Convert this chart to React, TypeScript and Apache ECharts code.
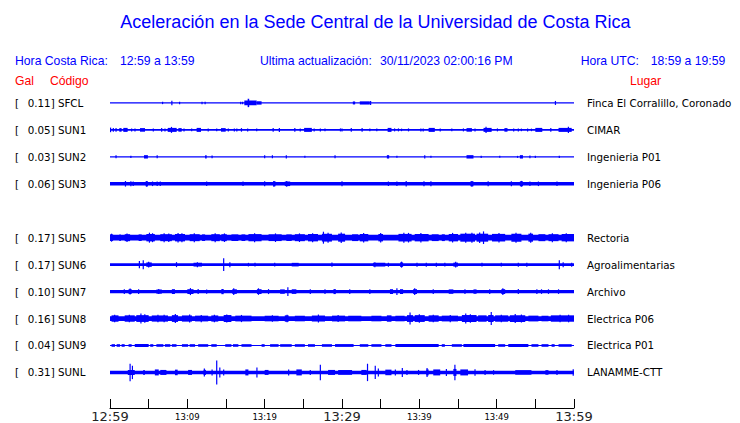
import React, { useEffect, useRef } from "react";
import * as echarts from "echarts";

// ---------- Data ----------
const TITLE = "Aceleración en la Sede Central de la Universidad de Costa Rica";
const LOCAL_RANGE = "12:59 a 13:59";
const UTC_RANGE = "18:59 a 19:59";
const UPDATED = "30/11/2023 02:00:16 PM";

const CODES = ["SFCL", "SUN1", "SUN2", "SUN3", "", "SUN5", "SUN6", "SUN7", "SUN8", "SUN9", "SUNL"];
const GAL = [0.11, 0.05, 0.03, 0.06, null, 0.17, 0.17, 0.1, 0.16, 0.04, 0.31];
const PLACES = [
  "Finca El Corralillo, Coronado",
  "CIMAR",
  "Ingenieria P01",
  "Ingenieria P06",
  "",
  "Rectoria",
  "Agroalimentarias",
  "Archivo",
  "Electrica P06",
  "Electrica P01",
  "LANAMME-CTT",
];

// x tick labels every 5 minutes from 12:59
const TICK_LABELS = ["12:59", "", "13:09", "", "13:19", "", "13:29", "", "13:39", "", "13:49", "", "13:59"];
const MAJOR_TICKS = ["12:59", "13:29", "13:59"];

// continuous background half-amplitude of each trace (27 units = one row)
const BASE = [0.6, 0.85, 0.6, 1.7, 0, 2.9, 1.4, 1.6, 2.4, 0.6, 1.7];

// events: [start minute, end minute, half-amplitude]
const SFCL_EV = [
  [6.8, 6.8, 1.2], [8.0, 8.0, 2.2], [9.0, 9.0, 1.3], [11.9, 11.9, 1.2], [12.3, 12.3, 1.2],
  [16.9, 16.9, 1.2], [17.15, 17.15, 1.3], [17.37, 18.97, 2.4], [17.8, 18.0, 4.2], [19.0, 19.6, 1.7],
  [31.4, 31.7, 1.5], [32.3, 33.6, 1.6], [33.7, 33.7, 2.0], [57.6, 57.6, 2.0],
];
const SUN1_EV = [
  [0.0, 0.15, 2.3], [0.43, 0.43, 1.8], [0.78, 0.78, 1.8], [1.2, 1.5, 1.8], [1.72, 2.28, 2.0], [2.8, 2.8, 1.5],
  [3.23, 3.23, 1.5], [3.88, 4.53, 1.8], [5.6, 5.6, 1.5], [6.68, 6.68, 1.8], [7.11, 7.11, 1.5], [7.46, 8.62, 2.0],
  [7.9, 8.0, 3.0], [8.84, 9.27, 1.8], [9.57, 9.57, 1.5], [10.56, 10.56, 1.3], [11.2, 11.77, 2.0], [12.7, 12.7, 1.5],
  [13.8, 13.8, 1.3], [14.35, 14.96, 1.8], [15.3, 15.3, 1.5], [16.08, 16.08, 1.5], [16.4, 16.4, 1.5], [17.0, 17.0, 1.8],
  [17.8, 17.8, 1.5], [18.97, 18.97, 1.3], [21.1, 21.1, 1.8], [21.9, 21.9, 2.0], [23.9, 23.9, 1.8], [24.6, 24.6, 1.5],
  [25.1, 26.1, 2.0], [26.4, 26.4, 1.5], [27.2, 27.2, 1.5], [27.8, 27.8, 1.3], [29.8, 29.8, 1.5], [30.0, 30.0, 1.5],
  [31.2, 31.2, 1.8], [32.6, 32.6, 1.8], [33.6, 33.6, 1.3], [34.5, 34.5, 1.3], [35.9, 36.4, 2.0], [36.8, 36.8, 1.5],
  [37.3, 37.3, 1.5], [37.7, 37.7, 1.3], [38.6, 38.6, 1.5], [40.2, 40.2, 1.5], [40.5, 40.5, 1.5], [41.2, 42.0, 2.0],
  [42.7, 42.7, 1.5], [44.2, 44.2, 1.3], [45.7, 45.7, 1.5], [46.1, 46.8, 1.8], [47.2, 47.2, 1.5], [48.3, 49.35, 2.0],
  [48.55, 48.7, 3.2], [50.1, 50.1, 1.5], [51.0, 51.4, 1.8], [52.2, 52.2, 1.5], [52.8, 52.8, 1.5], [53.2, 53.2, 1.3],
  [54.0, 54.0, 1.5], [54.5, 54.5, 1.3], [55.0, 55.9, 2.0], [57.0, 57.0, 1.8], [58.0, 59.7, 2.0], [59.2, 59.35, 3.2],
];
const SUN2_EV = [
  [0.78, 0.78, 1.5], [2.7, 2.7, 1.2], [4.4, 4.9, 1.7], [6.1, 6.1, 1.5], [12.3, 12.5, 1.7], [13.2, 13.2, 1.3],
  [20.0, 20.0, 1.5], [21.0, 21.0, 1.5], [22.8, 22.8, 1.7], [25.2, 25.2, 1.0], [29.1, 29.1, 1.5], [35.8, 36.1, 1.7],
  [37.1, 37.1, 1.0], [40.7, 40.7, 1.7], [41.5, 41.5, 1.0], [46.1, 47.0, 1.7], [48.0, 48.0, 1.2], [50.4, 50.4, 1.0],
  [52.7, 52.7, 1.0], [53.0, 53.4, 1.7], [54.3, 54.3, 1.3], [55.0, 55.0, 1.2], [58.1, 58.1, 1.2],
];
const SUN3_EV = [
  [2.0, 2.0, 2.8], [2.7, 2.7, 2.5], [3.0, 3.0, 2.3], [4.6, 4.9, 2.5], [4.75, 4.75, 2.9], [5.5, 5.5, 2.3], [6.1, 6.1, 2.3],
  [6.5, 6.5, 2.3], [12.5, 12.5, 2.3], [17.2, 17.2, 2.3], [20.0, 20.0, 2.5], [21.1, 21.4, 2.5], [21.2, 21.2, 2.9],
  [22.6, 23.3, 2.3], [22.8, 22.9, 2.9], [30.0, 30.0, 2.5], [36.0, 36.0, 2.3], [37.1, 37.1, 2.3], [38.3, 38.3, 2.8],
  [40.6, 40.6, 2.5], [41.5, 41.5, 2.5], [46.6, 47.0, 2.5], [46.8, 46.8, 2.9], [48.9, 48.9, 2.5], [51.9, 51.9, 2.5],
  [53.0, 53.4, 2.5], [53.2, 53.2, 2.9], [54.3, 54.3, 2.3], [55.4, 55.4, 2.3], [57.8, 57.8, 2.3],
];
const SUN5_EV = [
  [0.0, 0.4, 3.3], [0.2, 0.2, 4.0], [1.2, 1.4, 3.3], [1.9, 2.6, 3.5], [2.2, 2.2, 4.3], [3.7, 4.1, 3.3],
  [4.7, 5.8, 3.7], [5.1, 5.1, 5.0], [5.5, 5.5, 4.5], [6.5, 8.0, 3.5], [7.0, 7.0, 4.5], [7.6, 7.6, 4.3],
  [8.4, 9.7, 3.7], [8.8, 8.8, 4.8], [9.3, 9.3, 4.5], [10.3, 11.6, 3.5], [10.9, 10.9, 4.5], [11.9, 12.3, 3.3],
  [13.1, 14.2, 3.5], [13.6, 13.6, 4.5], [14.4, 15.1, 3.5], [14.8, 14.8, 4.3], [15.7, 16.6, 3.3], [17.0, 17.5, 3.3],
  [17.9, 19.6, 3.6], [18.7, 18.7, 4.5], [20.5, 22.2, 3.4], [21.4, 21.4, 4.3], [22.8, 23.5, 3.3], [23.9, 25.2, 3.5],
  [24.5, 24.5, 4.3], [25.6, 26.9, 3.7], [26.2, 26.2, 4.5], [27.4, 28.7, 3.9], [27.6, 27.6, 6.0], [28.2, 28.2, 5.0],
  [29.5, 30.4, 4.0], [29.9, 29.9, 5.3], [31.3, 32.1, 3.4], [32.3, 33.4, 3.7], [32.8, 32.8, 4.8], [34.7, 35.3, 3.7],
  [35.0, 35.0, 4.8], [37.3, 39.0, 3.8], [38.0, 38.0, 5.0], [38.6, 38.6, 4.8], [39.4, 41.2, 3.7], [40.2, 40.2, 4.8],
  [41.6, 42.5, 3.4], [42.9, 43.3, 3.4], [43.8, 45.0, 3.7], [44.3, 44.3, 4.8], [45.3, 47.2, 4.0], [46.0, 46.0, 5.0],
  [46.8, 46.8, 5.0], [47.4, 48.9, 4.0], [48.3, 48.3, 6.3], [47.8, 47.8, 5.3], [49.4, 51.1, 3.8], [50.3, 50.3, 4.8],
  [51.9, 53.2, 4.0], [52.5, 52.5, 5.0], [54.1, 54.7, 4.0], [54.4, 54.4, 5.0], [55.4, 56.3, 3.5], [56.7, 58.0, 3.5],
  [57.2, 57.2, 4.5], [58.4, 60.0, 3.7], [59.0, 59.0, 4.5],
];
const SUN6_EV = [
  [3.8, 3.8, 3.7], [4.3, 4.3, 4.5], [4.7, 5.4, 2.2], [5.0, 5.0, 2.8], [8.6, 8.6, 2.5], [10.8, 11.9, 1.9],
  [11.3, 11.3, 2.5], [14.7, 14.7, 6.3], [15.5, 15.5, 2.5], [17.9, 17.9, 1.8], [18.75, 18.75, 1.8], [21.3, 21.3, 1.8],
  [23.5, 24.4, 1.8], [28.7, 28.7, 2.2], [34.0, 35.6, 1.9], [34.2, 34.3, 2.5], [36.0, 36.0, 2.0], [37.5, 37.9, 2.2],
  [37.7, 37.7, 3.0], [39.7, 39.7, 2.0], [40.9, 40.9, 2.0], [42.2, 42.2, 2.0], [43.3, 43.3, 1.8], [44.4, 45.0, 2.0],
  [44.7, 44.7, 2.8], [48.1, 48.1, 1.8], [50.6, 50.6, 1.8], [52.8, 52.8, 2.0], [53.9, 53.9, 2.0], [58.1, 58.1, 4.5],
  [58.6, 58.6, 2.5], [59.7, 59.7, 2.0],
];
const SUN7_EV = [
  [1.85, 1.85, 2.3], [2.4, 2.8, 2.4], [2.6, 2.6, 3.0], [3.7, 3.7, 2.3], [6.0, 6.7, 2.1], [6.3, 6.3, 2.5],
  [8.0, 8.4, 2.4], [10.0, 10.8, 2.4], [10.4, 10.4, 3.5], [11.4, 11.4, 2.5], [12.5, 12.5, 2.2], [14.4, 14.7, 2.6],
  [15.8, 16.4, 2.3], [16.0, 16.0, 3.3], [19.0, 19.6, 2.4], [19.2, 19.2, 3.3], [20.5, 20.5, 2.5], [22.0, 22.6, 2.2],
  [23.0, 23.0, 4.3], [23.5, 24.1, 2.3], [25.9, 25.9, 2.3], [27.8, 27.8, 2.3], [28.9, 29.2, 2.5], [31.0, 31.0, 2.3],
  [33.6, 33.6, 2.3], [36.2, 36.6, 2.4], [37.1, 37.1, 3.3], [37.5, 37.9, 2.4], [39.2, 39.7, 2.4], [39.4, 39.4, 3.3],
  [41.8, 41.8, 2.3], [43.8, 44.4, 2.2], [45.9, 45.9, 2.3], [47.0, 47.4, 2.2], [49.1, 49.1, 2.3], [50.6, 51.1, 2.4],
  [50.8, 50.8, 3.3], [52.8, 52.8, 2.5], [55.2, 55.2, 2.3], [55.8, 55.8, 2.3], [56.7, 56.7, 2.3], [58.0, 58.0, 2.3],
];
const SUN8_EV = [
  [0.2, 1.1, 3.2], [0.6, 0.6, 3.8], [1.9, 3.2, 3.2], [2.5, 2.5, 3.8], [3.4, 5.0, 3.4], [4.0, 4.0, 5.0],
  [4.5, 4.5, 4.2], [5.4, 7.5, 3.1], [6.2, 6.2, 3.8], [7.0, 7.0, 3.8], [8.0, 8.8, 3.4], [8.45, 8.45, 4.5],
  [9.3, 10.6, 3.1], [10.3, 10.3, 4.0], [11.0, 12.7, 2.9], [11.8, 11.8, 3.6], [13.1, 14.0, 3.1], [13.5, 13.5, 3.8],
  [14.7, 15.7, 3.5], [15.1, 15.1, 4.0], [16.2, 18.3, 2.9], [17.0, 17.0, 3.6], [20.0, 21.8, 2.8], [21.0, 21.0, 3.3],
  [22.6, 23.1, 3.2], [22.9, 22.9, 3.8], [23.9, 25.2, 2.8], [26.1, 27.8, 3.0], [26.95, 26.95, 4.0], [28.7, 30.4, 2.9],
  [29.5, 29.5, 3.5], [30.8, 32.5, 2.8], [33.8, 35.1, 2.8], [35.8, 36.4, 3.2], [36.9, 38.1, 2.8], [38.4, 39.2, 3.4],
  [38.8, 38.8, 6.0], [39.4, 40.7, 3.4], [40.0, 40.0, 4.2], [41.2, 42.5, 3.2], [41.8, 41.8, 3.8], [42.9, 45.0, 2.9],
  [44.0, 44.0, 3.6], [45.5, 47.4, 3.5], [46.0, 46.0, 5.0], [46.6, 46.6, 4.3], [47.6, 48.7, 3.2], [48.9, 49.6, 3.5],
  [49.3, 49.3, 6.5], [49.8, 51.5, 3.2], [50.6, 50.6, 3.8], [51.7, 53.7, 3.4], [52.4, 52.4, 4.5], [53.2, 53.2, 4.0],
  [54.1, 55.4, 2.9], [55.8, 56.7, 2.8], [57.0, 60.0, 3.2], [58.2, 58.2, 3.8], [59.3, 59.3, 3.8],
];
const SUN9_EV = [
  [0.2, 0.65, 1.3], [0.86, 1.3, 1.3], [1.5, 1.9, 1.3], [2.4, 2.8, 1.3], [3.2, 5.0, 1.5], [5.2, 5.6, 1.3],
  [6.0, 6.9, 1.3], [7.1, 7.8, 1.3], [8.0, 8.6, 1.3], [9.3, 10.1, 1.3], [10.3, 11.0, 1.3], [11.4, 12.7, 1.3],
  [13.1, 13.8, 1.3], [14.9, 15.7, 1.3], [15.9, 16.6, 1.3], [17.0, 18.3, 1.3], [19.6, 20.0, 1.3], [20.7, 21.8, 1.3],
  [22.0, 23.5, 1.3], [23.9, 25.2, 1.3], [25.6, 26.5, 1.3], [27.4, 28.7, 1.3], [29.1, 31.5, 1.4], [32.3, 33.4, 1.3],
  [33.8, 35.1, 1.3], [35.6, 36.4, 1.3], [36.9, 42.5, 1.5], [42.9, 43.3, 1.3], [44.2, 45.5, 1.3], [45.7, 49.8, 1.5],
  [50.2, 51.1, 1.3], [51.5, 54.1, 1.4], [54.5, 55.4, 1.3], [55.8, 56.7, 1.3], [57.1, 57.5, 1.3], [58.0, 59.7, 1.3],
];
const SUNL_EV = [
  [2.3, 3.2, 2.5], [2.6, 2.6, 8.8], [2.9, 2.9, 6.7], [4.3, 4.5, 2.5], [5.8, 6.3, 3.0], [6.5, 7.3, 2.5],
  [8.4, 8.75, 2.8], [10.1, 10.6, 2.5], [12.1, 12.4, 2.6], [12.2, 12.2, 4.0], [13.2, 13.2, 3.0], [13.8, 13.8, 12.0],
  [14.2, 14.2, 5.0], [14.7, 14.7, 3.0], [17.5, 17.9, 3.0], [19.0, 19.0, 5.0], [20.0, 20.5, 2.5], [23.1, 23.1, 3.0],
  [24.1, 24.8, 3.0], [25.9, 25.9, 2.5], [27.2, 27.2, 7.8], [28.2, 29.1, 2.5], [29.5, 31.3, 2.4], [32.5, 33.2, 2.5],
  [33.3, 33.3, 8.7], [34.3, 34.3, 6.7], [34.7, 34.7, 4.0], [35.6, 36.4, 2.8], [36.9, 36.9, 3.0], [37.8, 37.8, 4.5],
  [38.4, 38.4, 2.5], [39.9, 39.9, 2.5], [40.9, 41.2, 3.0], [41.0, 41.0, 4.5], [41.8, 42.7, 3.0], [43.5, 43.5, 3.5],
  [44.4, 44.8, 3.5], [44.6, 44.6, 7.8], [45.3, 46.3, 3.0], [47.2, 47.2, 3.3], [48.5, 48.5, 2.5], [49.6, 49.6, 2.3],
  [52.4, 54.5, 2.3], [56.3, 56.7, 2.3], [57.8, 57.8, 2.5], [59.9, 59.9, 3.3],
];

const EVENTS = [SFCL_EV, SUN1_EV, SUN2_EV, SUN3_EV, [], SUN5_EV, SUN6_EV, SUN7_EV, SUN8_EV, SUN9_EV, SUNL_EV];

// ---------- Styling ----------
const AMP_PER_ROW = 27;
const TRACE_COLOR = "#0000ff";
const BLUE = "#0000ff";
const RED = "#ff0000";
const LABEL_FONT = "DejaVu Sans";
const HEAD_FONT = "Liberation Sans";

function rowIndex(v: number): number {
  const i = Math.round(v);
  if (Math.abs(v - i) > 1e-6 || i < 0 || i >= CODES.length || !CODES[i]) return -1;
  return i;
}

export default function App() {
  const ref = useRef<HTMLDivElement>(null);

  useEffect(() => {
    if (!ref.current) return;
    const chart = echarts.init(ref.current, undefined, { renderer: "svg" });

    const series: any[] = [];
    CODES.forEach((code, i) => {
      if (!code) return;
      const data = [[0, 60, i, BASE[i]], ...EVENTS[i].map((e) => [e[0], e[1], i, e[2]])];
      series.push({
        type: "custom",
        name: code,
        clip: false,
        silent: true,
        data,
        renderItem: (params: any, api: any) => {
          const t0 = api.value(0);
          const t1 = api.value(1);
          const row = api.value(2);
          const a = api.value(3) / AMP_PER_ROW;
          const p0 = api.coord([t0, row - a]);
          const p1 = api.coord([t1, row + a]);
          const rawW = Math.abs(p1[0] - p0[0]);
          const w = Math.max(rawW, 1.2);
          const x = Math.min(p0[0], p1[0]) - (w - rawW) / 2;
          const y = Math.min(p0[1], p1[1]);
          const h = Math.max(Math.abs(p1[1] - p0[1]), 1);
          return { type: "rect", shape: { x, y, width: w, height: h }, style: { fill: TRACE_COLOR } };
        },
      });
    });

    const headerText = (text: string, x: number, y: number, fill: string, size = 12.2, align = "left") => ({
      type: "text",
      silent: true,
      style: {
        text,
        x,
        y,
        fill,
        font: `${size}px "${HEAD_FONT}"`,
        align,
        verticalAlign: "middle",
        textAlign: align,
        textVerticalAlign: "middle",
      },
    });

    const labelRich = { fontFamily: LABEL_FONT, fontSize: 10.3, color: "#000" };

    chart.setOption({
      animation: false,
      backgroundColor: "#ffffff",
      grid: { left: 110, right: 166, top: 76, bottom: 14 },
      xAxis: {
        type: "value",
        min: 0,
        max: 60,
        interval: 5,
        axisLine: { show: true, onZero: false, lineStyle: { color: "#000", width: 1 } },
        axisTick: { show: true, inside: true, length: 9, lineStyle: { color: "#000", width: 1 } },
        splitLine: { show: false },
        axisLabel: {
          margin: 2,
          showMinLabel: true,
          showMaxLabel: true,
          formatter: (v: number) => {
            const k = Math.round(v / 5);
            const s = TICK_LABELS[k] || "";
            if (!s) return "";
            return MAJOR_TICKS.includes(s) ? `{big|${s}}` : `{small|${s}}`;
          },
          rich: {
            big: { fontFamily: LABEL_FONT, fontSize: 13, color: "#222" },
            small: { fontFamily: LABEL_FONT, fontSize: 8.5, color: "#000", padding: [2, 0, 0, 0] },
          },
        },
      },
      yAxis: [
        {
          type: "value",
          inverse: true,
          min: -1,
          max: 11.32,
          interval: 1,
          axisLine: { show: false, onZero: false },
          axisTick: { show: false },
          splitLine: { show: false },
          axisLabel: {
            align: "left",
            margin: 95,
            showMinLabel: true,
            showMaxLabel: true,
            formatter: (v: number) => {
              const i = rowIndex(v);
              if (i < 0) return "";
              return `{b|[}{v|${(GAL[i] as number).toFixed(2)}}{c|] ${CODES[i]}}`;
            },
            rich: {
              b: { ...labelRich, width: 12.7 },
              v: { ...labelRich },
              c: { ...labelRich },
            },
          },
        },
        {
          type: "value",
          position: "right",
          inverse: true,
          min: -1,
          max: 11.32,
          interval: 1,
          axisLine: { show: false, onZero: false },
          axisTick: { show: false },
          splitLine: { show: false },
          axisLabel: {
            align: "left",
            margin: 13,
            fontFamily: LABEL_FONT,
            fontSize: 10.3,
            color: "#000",
            formatter: (v: number) => {
              const i = rowIndex(v);
              return i < 0 ? "" : PLACES[i];
            },
          },
        },
      ],
      graphic: [
        headerText(TITLE, 375.5, 22, BLUE, 18, "center"),
        headerText("Hora Costa Rica:", 15, 61, BLUE),
        headerText(LOCAL_RANGE, 120, 61, BLUE),
        headerText("Ultima actualización:", 260, 61, BLUE),
        headerText(UPDATED, 380, 61, BLUE),
        headerText("Hora UTC:", 580.7, 61, BLUE),
        headerText(UTC_RANGE, 650.7, 61, BLUE),
        headerText("Gal", 15, 81, RED),
        headerText("Código", 50, 81, RED),
        headerText("Lugar", 630, 81, RED),
      ],
      series,
    });

    return () => chart.dispose();
  }, []);

  return (
    <div
      ref={ref}
      style={{ position: "fixed", left: 0, top: 0, width: 740, height: 423, background: "#fff" }}
    />
  );
}
